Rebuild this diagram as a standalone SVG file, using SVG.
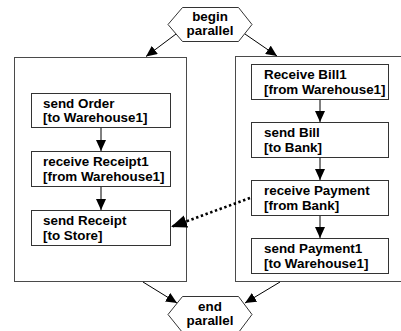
<svg xmlns="http://www.w3.org/2000/svg" width="401" height="331" viewBox="0 0 401 331">
  <style>
    .bg { fill: #ffffff; }
    .lane { fill: #ffffff; stroke: #4a4a4a; stroke-width: 1; }
    .box { fill: #ffffff; stroke: #333333; stroke-width: 1; }
    .hex { fill: #ffffff; stroke: #333333; stroke-width: 1; }
    .lbl { font-family: "Liberation Sans", Arial, Helvetica, sans-serif; font-size: 13.4px; font-weight: bold; fill: #000000; }
    .mid { text-anchor: middle; }
    .flow { fill: none; stroke: #000000; stroke-width: 1; }
    .msg { fill: none; stroke: #000000; stroke-width: 2.6; stroke-dasharray: 2.4 2.6; }
  </style>
  <defs>
    <marker id="arrow" markerUnits="userSpaceOnUse" markerWidth="11" markerHeight="10" refX="11" refY="5" orient="auto">
      <path d="M0,0 L11,5 L0,10 z" fill="#000000"/>
    </marker>
    <marker id="bigArrow" markerUnits="userSpaceOnUse" markerWidth="16" markerHeight="13" refX="16" refY="6.5" orient="auto">
      <path d="M0,0 L16,6.5 L0,13 z" fill="#000000"/>
    </marker>
  </defs>

  <rect class="bg" x="0" y="0" width="401" height="331"/>

  <!-- parallel lanes -->
  <g id="lane-left">
    <rect class="lane" x="14.5" y="57.5" width="172" height="224"/>
  </g>
  <g id="lane-right">
    <rect class="lane" x="235.5" y="56.5" width="170" height="225"/>
  </g>

  <!-- fork / join -->
  <g id="begin-parallel">
    <polygon class="hex" points="168,24.5 182.5,7.5 238.5,7.5 252,24.5 238.5,41.5 182.5,41.5"/>
    <text class="lbl mid" x="210" y="21">begin</text>
    <text class="lbl mid" x="210" y="35">parallel</text>
  </g>
  <g id="end-parallel">
    <polygon class="hex" points="168,314.5 182.5,296.5 238.5,296.5 252,314.5 238.5,332.5 182.5,332.5"/>
    <text class="lbl mid" x="210" y="311">end</text>
    <text class="lbl mid" x="210" y="325">parallel</text>
  </g>

  <!-- left lane activities -->
  <g id="send-order">
    <rect class="box" x="31.5" y="93.5" width="139" height="34"/>
    <text class="lbl" x="43" y="108">send Order</text>
    <text class="lbl" x="43" y="122">[to Warehouse1]</text>
  </g>
  <g id="receive-receipt1">
    <rect class="box" x="31.5" y="151.5" width="139" height="35"/>
    <text class="lbl" x="43" y="166">receive Receipt1</text>
    <text class="lbl" x="43" y="180.5">[from Warehouse1]</text>
  </g>
  <g id="send-receipt">
    <rect class="box" x="31.5" y="210.5" width="139" height="35"/>
    <text class="lbl" x="43" y="225">send Receipt</text>
    <text class="lbl" x="43" y="239.5">[to Store]</text>
  </g>

  <!-- right lane activities -->
  <g id="receive-bill1">
    <rect class="box" x="251.5" y="64.5" width="137" height="35"/>
    <text class="lbl" x="264" y="79">Receive Bill1</text>
    <text class="lbl" x="264" y="93.5">[from Warehouse1]</text>
  </g>
  <g id="send-bill">
    <rect class="box" x="251.5" y="122.5" width="137" height="35"/>
    <text class="lbl" x="264" y="137">send Bill</text>
    <text class="lbl" x="264" y="151.5">[to Bank]</text>
  </g>
  <g id="receive-payment">
    <rect class="box" x="251.5" y="180.5" width="137" height="35"/>
    <text class="lbl" x="264" y="195">receive Payment</text>
    <text class="lbl" x="264" y="209.5">[from Bank]</text>
  </g>
  <g id="send-payment1">
    <rect class="box" x="251.5" y="238.5" width="137" height="35"/>
    <text class="lbl" x="264" y="253">send Payment1</text>
    <text class="lbl" x="264" y="267.5">[to Warehouse1]</text>
  </g>

  <!-- connectors -->
  <g id="connectors">
    <line class="flow" x1="176" y1="34" x2="146" y2="56.5" marker-end="url(#arrow)"/>
    <line class="flow" x1="245" y1="34" x2="277" y2="56" marker-end="url(#arrow)"/>

    <line class="flow" x1="101" y1="128" x2="101" y2="151" marker-end="url(#arrow)"/>
    <line class="flow" x1="101" y1="187" x2="101" y2="210" marker-end="url(#arrow)"/>

    <line class="flow" x1="320" y1="100" x2="320" y2="122" marker-end="url(#arrow)"/>
    <line class="flow" x1="320" y1="158" x2="320" y2="180" marker-end="url(#arrow)"/>
    <line class="flow" x1="320" y1="216" x2="320" y2="238" marker-end="url(#arrow)"/>

    <line class="msg" x1="250" y1="198" x2="171" y2="227" marker-end="url(#bigArrow)"/>

    <line class="flow" x1="143" y1="282" x2="177" y2="303" marker-end="url(#arrow)"/>
    <line class="flow" x1="280" y1="282" x2="245" y2="303" marker-end="url(#arrow)"/>
  </g>
</svg>
